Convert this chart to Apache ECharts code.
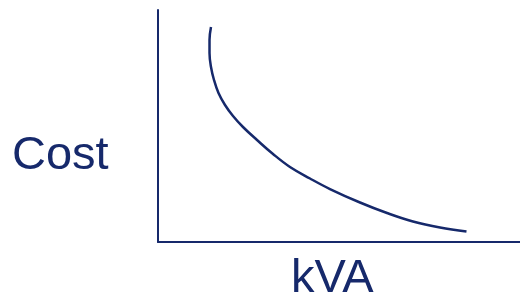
<!DOCTYPE html>
<html>
<head>
<meta charset="utf-8">
<script src="https://cdn.jsdelivr.net/npm/echarts@6/dist/echarts.min.js"></script>
<style>
  html, body { margin: 0; padding: 0; background: #fff; }
  #chart { width: 520px; height: 302px; }
</style>
</head>
<body>
<div id="chart"></div>
<script>
// curve (arbitrary units, 0..100 on both axes)
const kva = [14.64, 14.23, 14.23, 14.64, 15.47, 16.71, 18.51, 20.72, 23.48, 27.35, 31.77, 36.46, 41.99, 47.51, 55.80, 63.26, 70.44, 77.90, 85.22];
const cost = [92.67, 87.07, 81.47, 75.43, 69.83, 64.22, 59.05, 54.31, 49.57, 43.97, 37.93, 32.33, 27.37, 22.84, 17.03, 12.50, 8.84, 6.25, 4.53];
const xLabel = 'kVA';
const yLabel = 'Cost';

const navy = '#16296b';
const chart = echarts.init(document.getElementById('chart'));

const option = {
  animation: false,
  grid: { left: 158, right: 0, top: 10, bottom: 60 },
  xAxis: {
    type: 'value',
    min: 0,
    max: 100,
    axisLine: { show: true, lineStyle: { color: navy, width: 2 } },
    axisTick: { show: false },
    axisLabel: { show: false },
    splitLine: { show: false }
  },
  yAxis: {
    type: 'value',
    min: 0,
    max: 100,
    axisLine: { show: true, lineStyle: { color: navy, width: 2 } },
    axisTick: { show: false },
    axisLabel: { show: false },
    splitLine: { show: false }
  },
  graphic: [
    {
      type: 'text',
      left: 12,
      top: 133,
      style: { text: yLabel, fill: navy, font: '47px "Liberation Sans", Arial, sans-serif' }
    },
    {
      type: 'text',
      left: 291,
      top: 256,
      style: { text: xLabel, fill: navy, font: '47px "Liberation Sans", Arial, sans-serif' }
    }
  ],
  series: [
    {
      type: 'line',
      data: kva.map((x, i) => [x, cost[i]]),
      smooth: 0.4,
      showSymbol: false,
      lineStyle: { color: navy, width: 2.5 }
    }
  ]
};

chart.setOption(option);
</script>
</body>
</html>
